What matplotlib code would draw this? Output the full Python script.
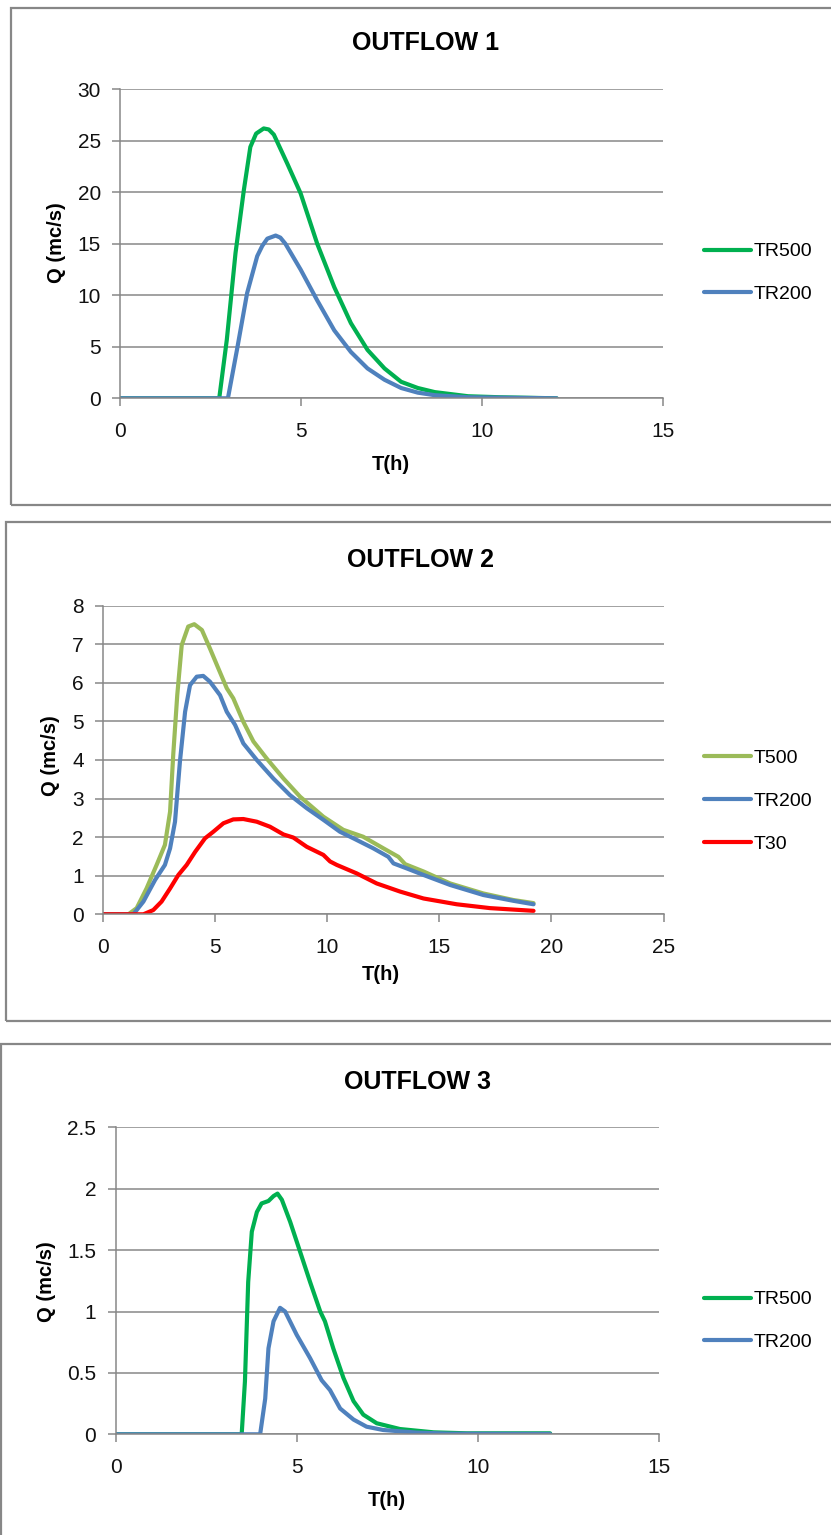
import matplotlib
matplotlib.use("Agg")
import matplotlib.pyplot as plt
from matplotlib.patches import Rectangle

plt.rcParams["font.family"] = ["Liberation Sans", "DejaVu Sans"]

# OUTFLOW 1
t1_tr500 = [0, 2.73, 2.94, 3.18, 3.41, 3.59, 3.75, 3.96, 4.1, 4.24, 4.61, 4.98, 5.44, 5.91, 6.37, 6.83, 7.30, 7.76, 8.22, 8.69, 9.61, 10.5, 12.06]
q1_tr500 = [0, 0, 5.7, 14.1, 20.2, 24.4, 25.7, 26.2, 26.1, 25.6, 22.8, 19.9, 15.0, 10.8, 7.3, 4.7, 2.9, 1.6, 1.0, 0.6, 0.2, 0.1, 0]
t1_tr200 = [0, 2.97, 3.22, 3.5, 3.78, 3.92, 4.06, 4.29, 4.42, 4.56, 4.98, 5.44, 5.91, 6.37, 6.83, 7.3, 7.76, 8.22, 8.69, 9.61, 12.06]
q1_tr200 = [0, 0, 4.7, 10.2, 13.8, 14.8, 15.5, 15.8, 15.6, 15.0, 12.5, 9.5, 6.6, 4.5, 2.9, 1.8, 1.0, 0.55, 0.3, 0.1, 0]

# OUTFLOW 2
t2_t500 = [0, 1.12, 1.49, 1.93, 2.38, 2.75, 2.98, 3.12, 3.30, 3.5, 3.79, 4.06, 4.4, 4.76, 5.13, 5.51, 5.8,
           6.25, 6.7, 7.29, 8.04, 8.78, 9.82, 10.71, 11.6, 12.5, 13.17, 13.47, 14.29, 15.48, 16.96, 18.3, 19.2]
q2_t500 = [0, 0, 0.16, 0.67, 1.28, 1.8, 2.66, 4.13, 5.68, 6.98, 7.46, 7.52, 7.37, 6.89, 6.38, 5.86, 5.6,
           4.99, 4.48, 4.04, 3.52, 3.05, 2.53, 2.19, 2.01, 1.71, 1.49, 1.30, 1.11, 0.8, 0.54, 0.37, 0.29]
t2_tr200 = [0, 1.34, 1.79, 2.31, 2.75, 2.98, 3.2, 3.42, 3.65, 3.87, 4.17, 4.46, 4.76, 5.21, 5.51, 5.88, 6.25,
            6.85, 7.59, 8.33, 9.08, 9.82, 10.56, 11.16, 12.05, 12.72, 12.95, 13.54, 14.29, 15.48, 16.96, 18.3, 19.2]
q2_tr200 = [0, 0, 0.33, 0.89, 1.28, 1.71, 2.4, 3.96, 5.25, 5.94, 6.16, 6.18, 6.03, 5.68, 5.25, 4.91, 4.43,
            4.0, 3.52, 3.09, 2.75, 2.45, 2.14, 1.97, 1.71, 1.49, 1.32, 1.19, 1.02, 0.76, 0.5, 0.35, 0.26]
t2_t30 = [0, 1.79, 2.23, 2.6, 2.98, 3.35, 3.72, 4.1, 4.54, 4.91, 5.36, 5.8, 6.25, 6.85, 7.44, 8.04, 8.48,
          9.08, 9.82, 10.12, 10.42, 11.31, 12.2, 13.24, 14.29, 15.77, 17.26, 19.2]
q2_t30 = [0, 0, 0.11, 0.33, 0.67, 1.02, 1.28, 1.62, 1.97, 2.14, 2.36, 2.46, 2.47, 2.4, 2.27, 2.07, 1.99,
          1.75, 1.54, 1.37, 1.28, 1.06, 0.8, 0.59, 0.41, 0.26, 0.16, 0.09]

# OUTFLOW 3
t3_tr500 = [0, 3.48, 3.57, 3.66, 3.76, 3.9, 4.03, 4.22, 4.36, 4.47, 4.59, 4.82, 5.09, 5.37, 5.65, 5.78,
            6.01, 6.29, 6.57, 6.84, 7.21, 7.85, 8.78, 9.7, 12.0]
q3_tr500 = [0, 0, 0.43, 1.24, 1.65, 1.81, 1.88, 1.9, 1.94, 1.96, 1.91, 1.73, 1.49, 1.24, 1.0, 0.92,
            0.7, 0.46, 0.27, 0.16, 0.09, 0.043, 0.016, 0.008, 0.008]
t3_tr200 = [0, 3.99, 4.13, 4.22, 4.36, 4.54, 4.68, 5.0, 5.37, 5.69, 5.92, 6.2, 6.57, 6.93, 7.39, 8.31, 9.24, 12.0]
q3_tr200 = [0, 0, 0.29, 0.7, 0.92, 1.03, 1.0, 0.81, 0.62, 0.44, 0.36, 0.21, 0.12, 0.062, 0.035, 0.014, 0.005, 0.003]

W, H = 831, 1535
GRAY = "#878787"
GREEN = "#00B050"
BLUE = "#4F81BD"
OLIVE = "#9BBB59"
RED = "#FF0000"

fig = plt.figure(figsize=(W / 100, H / 100), dpi=100)


def fx(x):
    return x / W


def fy(y):
    return 1 - y / H


def box(left, top, bottom):
    fig.patches.append(Rectangle((fx(left), fy(bottom)), fx(W + 20 - left), fy(top) - fy(bottom),
                                 transform=fig.transFigure, fill=False, edgecolor=GRAY, linewidth=1.6))


def panel(left, right, top, bottom, xmax, ymax, ystep, series, title, tpos, xlpos, ylpos, legy):
    ax = fig.add_axes([fx(left), fy(bottom), fx(right - left), fy(top) - fy(bottom)])
    for t, q, c, lab in series:
        ax.plot(t, q, color=c, lw=3.0, label=lab, solid_capstyle="round", solid_joinstyle="round")
    ax.set_xlim(0, xmax)
    ax.set_ylim(0, ymax)
    ax.set_xticks(range(0, xmax + 1, 5))
    yt = [i * ystep for i in range(int(round(ymax / ystep)) + 1)]
    ax.set_yticks(yt)
    ax.set_yticklabels([f"{v:g}" for v in yt])
    ax.grid(axis="y", color=GRAY, lw=1.1)
    ax.set_axisbelow(True)
    for s in ["top", "right"]:
        ax.spines[s].set_visible(False)
    for s in ["left", "bottom"]:
        ax.spines[s].set_color(GRAY)
        ax.spines[s].set_linewidth(1.1)
    ax.tick_params(axis="both", direction="out", length=6, width=1.1, color=GRAY,
                   labelsize=15, labelcolor="#111111")
    ax.tick_params(axis="x", pad=11)
    ax.tick_params(axis="y", pad=8)
    fig.text(fx(tpos[0]), fy(tpos[1]), title, fontsize=18, fontweight="bold", ha="center", va="center")
    fig.text(fx(xlpos[0]), fy(xlpos[1]), "T(h)", fontsize=14.5, fontweight="bold", ha="center", va="center")
    fig.text(fx(ylpos[0]), fy(ylpos[1]), "Q (mc/s)", fontsize=14.5, fontweight="bold", ha="center",
             va="center", rotation=90)
    ax.legend(loc="center left", bbox_to_anchor=(fx(704), fy(legy)), bbox_transform=fig.transFigure,
              frameon=False, fontsize=14, handlelength=2.4, handletextpad=0.15, labelspacing=1.3,
              borderpad=0, borderaxespad=0)
    return ax


box(11, 8, 505)
panel(120.5, 663, 89.3, 398.3, 15, 30, 5,
      [(t1_tr500, q1_tr500, GREEN, "TR500"), (t1_tr200, q1_tr200, BLUE, "TR200")],
      "OUTFLOW 1", (426, 43), (391, 464), (56, 243), 273)

box(6, 522, 1021)
panel(103.3, 663.5, 605.7, 914.3, 25, 8, 1,
      [(t2_t500, q2_t500, OLIVE, "T500"), (t2_tr200, q2_tr200, BLUE, "TR200"), (t2_t30, q2_t30, RED, "T30")],
      "OUTFLOW 2", (421, 560), (381, 974), (51, 756), 801)

box(1, 1044, H + 20)
panel(115.7, 658.7, 1127.3, 1434.3, 15, 2.5, 0.5,
      [(t3_tr500, q3_tr500, GREEN, "TR500"), (t3_tr200, q3_tr200, BLUE, "TR200")],
      "OUTFLOW 3", (418, 1082), (387, 1501), (46, 1282), 1321)

fig.savefig("out.png", dpi=100, facecolor="white")
